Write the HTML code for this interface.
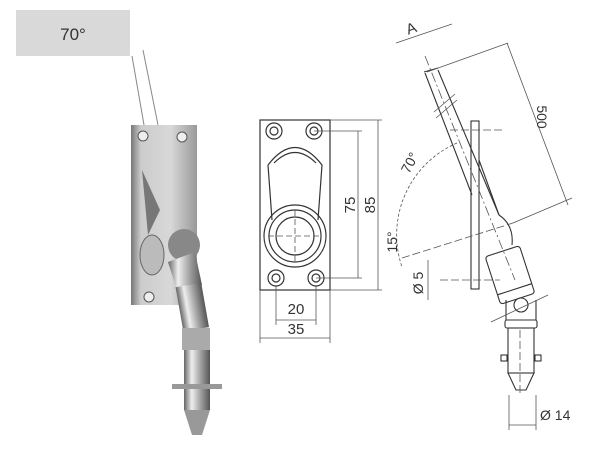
<!DOCTYPE html>
<html><head><style>
html,body{margin:0;padding:0;background:#fff;}
svg{display:block;}
text{font-family:"Liberation Sans",sans-serif;fill:#333;}
</style></head><body>
<svg width="600" height="450" viewBox="0 0 600 450" xmlns="http://www.w3.org/2000/svg">
<defs>
<linearGradient id="met" x1="0" x2="1" y1="0" y2="0">
<stop offset="0" stop-color="#666"/><stop offset="0.3" stop-color="#eee"/><stop offset="0.6" stop-color="#aaa"/><stop offset="1" stop-color="#555"/>
</linearGradient>
<linearGradient id="plate" x1="0" x2="1" y1="0" y2="0">
<stop offset="0" stop-color="#777"/><stop offset="0.15" stop-color="#ccc"/><stop offset="0.6" stop-color="#d8d8d8"/><stop offset="1" stop-color="#999"/>
</linearGradient>
</defs>
<rect x="16" y="10" width="114" height="46" fill="#d9d9d9"/>
<text x="73" y="40" font-size="17" text-anchor="middle" fill="#333">70°</text>

<line x1="132" y1="56" x2="144" y2="125" stroke="#888" stroke-width="1"/>
<line x1="143" y1="50" x2="158" y2="125" stroke="#888" stroke-width="1"/>
<rect x="131" y="125" width="66" height="180" fill="url(#plate)"/>
<circle cx="143" cy="136" r="5" fill="#eee" stroke="#555"/>
<circle cx="182" cy="137" r="5" fill="#eee" stroke="#555"/>
<circle cx="149" cy="297" r="5" fill="#eee" stroke="#555"/>
<polygon points="142,170 160,210 148,235" fill="#777"/>
<ellipse cx="152" cy="255" rx="12" ry="20" fill="#bbb" stroke="#666"/>
<circle cx="184" cy="245" r="16" fill="#888"/>
<polygon points="168,262 195,252 202,285 180,300" fill="url(#met)"/>
<rect x="178" y="285" width="26" height="45" fill="url(#met)" transform="rotate(-10 190 300)"/>
<rect x="182" y="328" width="28" height="22" fill="#aaa"/>
<rect x="184" y="350" width="26" height="60" fill="url(#met)"/>
<polygon points="184,410 210,410 202,435 192,435" fill="#999"/>
<rect x="172" y="384" width="50" height="5" fill="#999"/>

<g stroke="#333" fill="none" stroke-width="1.2">
<rect x="260" y="120" width="70" height="170"/>
<circle cx="274" cy="131" r="8"/><circle cx="274" cy="131" r="4"/>
<circle cx="314" cy="131" r="8"/><circle cx="314" cy="131" r="4"/>
<circle cx="276" cy="278" r="8"/><circle cx="276" cy="278" r="4"/>
<circle cx="316" cy="278" r="8"/><circle cx="316" cy="278" r="4"/>
<path d="M268,165 Q295,130 322,165 L318,220 M268,165 L272,220"/>
<path d="M274,163 Q295,142 316,163"/>
<circle cx="295" cy="236" r="31"/>
<circle cx="295" cy="236" r="26"/>
<circle cx="295" cy="236" r="19"/>
</g>
<g stroke="#555" stroke-width="0.8" fill="none">
<line x1="295" y1="210" x2="295" y2="262" stroke-dasharray="6,3"/>
<line x1="268" y1="236" x2="322" y2="236" stroke-dasharray="6,3"/>
<line x1="314" y1="131" x2="362" y2="131"/>
<line x1="316" y1="278" x2="362" y2="278"/>
<line x1="330" y1="120" x2="382" y2="120"/>
<line x1="330" y1="290" x2="382" y2="290"/>
<line x1="358" y1="131" x2="358" y2="278"/>
<line x1="378" y1="120" x2="378" y2="290"/>
<line x1="276" y1="286" x2="276" y2="325"/>
<line x1="316" y1="286" x2="316" y2="325"/>
<line x1="260" y1="290" x2="260" y2="343"/>
<line x1="330" y1="290" x2="330" y2="343"/>
<line x1="276" y1="320" x2="316" y2="320"/>
<line x1="260" y1="338" x2="330" y2="338"/>
</g>
<text x="296" y="314" font-size="15" text-anchor="middle">20</text>
<text x="296" y="334" font-size="15" text-anchor="middle">35</text>
<text font-size="15" transform="translate(355,205) rotate(-90)" text-anchor="middle">75</text>
<text font-size="15" transform="translate(375,205) rotate(-90)" text-anchor="middle">85</text>

<g stroke="#333" fill="none" stroke-width="1.1">
<rect x="471" y="121" width="8" height="168"/>
<line x1="425" y1="73" x2="472" y2="195"/>
<line x1="438" y1="70" x2="499" y2="215"/>
<line x1="479" y1="160" x2="499" y2="215"/>
<line x1="424" y1="72" x2="438" y2="68"/>
<path d="M499,215 Q514,225 512,245"/>
<g transform="rotate(-18 510 275)">
<rect x="492" y="250" width="36" height="50" rx="3"/>
<line x1="492" y1="290" x2="528" y2="290"/>
</g>
<circle cx="521" cy="305" r="7"/>
<path d="M506,300 L506,320 L536,320 L536,300"/>
<rect x="505" y="320" width="32" height="8" rx="2"/>
<rect x="508" y="328" width="26" height="45"/>
<rect x="501" y="355" width="6" height="6"/><rect x="535" y="355" width="6" height="6"/>
<polygon points="508,373 534,373 526,390 516,390"/>
</g>
<g stroke="#555" stroke-width="0.8" fill="none">
<line x1="396" y1="43" x2="452" y2="24"/>
<line x1="425" y1="56" x2="515" y2="280" stroke-dasharray="10,3,2,3"/>
<line x1="427" y1="72" x2="508" y2="43"/>
<line x1="507" y1="43" x2="568" y2="205"/>
<line x1="513" y1="223" x2="572" y2="198"/>
<line x1="402" y1="258" x2="513" y2="223" stroke-dasharray="8,3"/>
<path d="M457,143 A100,100 0 0 0 402,267" stroke-dasharray="3,2"/>
<line x1="450" y1="130" x2="505" y2="130" stroke-dasharray="8,3"/>
<line x1="440" y1="280" x2="500" y2="280" stroke-dasharray="8,3"/>
<line x1="428" y1="260" x2="428" y2="300"/>
<line x1="491" y1="322" x2="548" y2="295"/>
<line x1="520" y1="330" x2="520" y2="395" stroke-dasharray="8,3"/>
<line x1="509" y1="395" x2="509" y2="430"/>
<line x1="536" y1="395" x2="536" y2="430"/>
<line x1="509" y1="425" x2="536" y2="425"/>
<line x1="434" y1="112" x2="455" y2="94"/>
<line x1="436" y1="118" x2="457" y2="100"/>
</g>
<text font-size="15" transform="translate(413,33) rotate(-20)" text-anchor="middle">A</text>
<text font-size="14" transform="translate(537,117) rotate(90)" text-anchor="middle">500</text>
<text font-size="14" transform="translate(414,165) rotate(-62)" text-anchor="middle">70°</text>
<text font-size="14" transform="translate(397,242) rotate(-90)" text-anchor="middle">15°</text>
<text font-size="14" transform="translate(423,283) rotate(-90)" text-anchor="middle">Ø 5</text>
<text x="540" y="420" font-size="14">Ø 14</text>
</svg>
</body></html>
